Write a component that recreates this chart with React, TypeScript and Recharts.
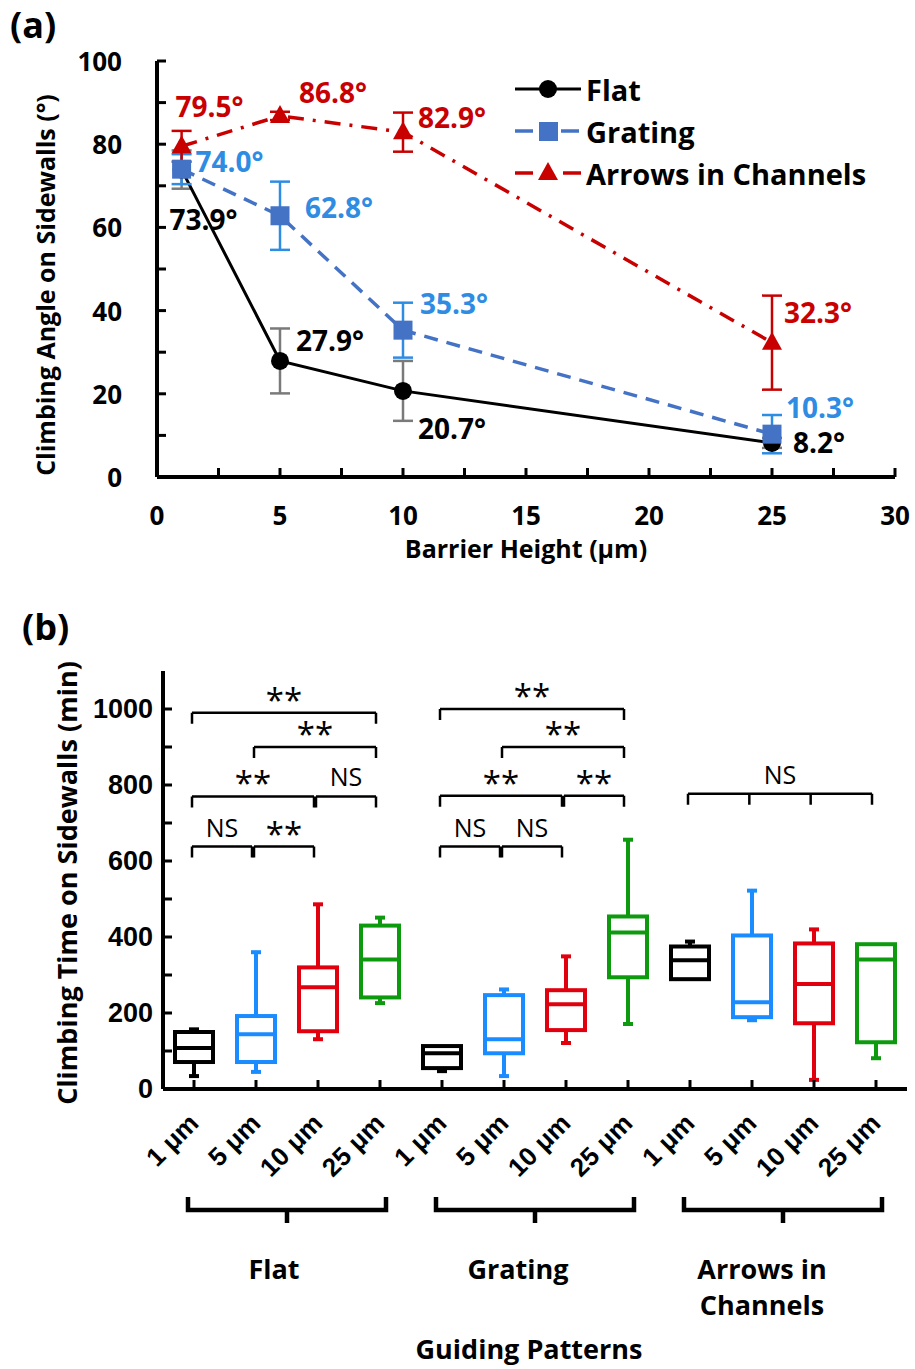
import React from 'react'
import {
  ComposedChart,
  Line,
  Bar,
  XAxis,
  YAxis,
  ErrorBar,
  LabelList,
  Legend,
  ReferenceLine,
} from 'recharts'

const FONT_A = "'Open Sans', 'DejaVu Sans', sans-serif"
const FONT_B = "'Liberation Sans', Arial, sans-serif"

// ---------- panel (a): climbing angle vs barrier height
const barrierHeights = [1, 5, 10, 25]
const flatAngle = [73.9, 27.9, 20.7, 8.2]
const flatSd = [4.6, 7.8, 7.2, 1.2]
const gratingAngle = [74.0, 62.8, 35.3, 10.3]
const gratingSd = [3.6, 8.2, 6.6, 4.6]
const arrowsAngle = [79.5, 86.8, 82.9, 32.3]
const arrowsSd = [3.7, 1.0, 4.7, 11.3]
const angleSeries = ['Flat', 'Grating', 'Arrows in Channels']
const angleTicks = [0, 10, 20, 30, 40, 50, 60, 70, 80, 90, 100]
const heightTicks = [0, 2.5, 5, 7.5, 10, 12.5, 15, 17.5, 20, 22.5, 25, 27.5, 30]

// ---------- panel (b): climbing time box plots
const patterns = ['Flat', 'Grating', 'Arrows in Channels']
const heightLabels = ['1 μm', '5 μm', '10 μm', '25 μm']
const timeMin = [34, 45, 131, 226, 47, 34, 121, 171, 289, 181, 24, 81]
const timeQ1 = [71, 71, 152, 241, 55, 94, 155, 294, 289, 189, 173, 123]
const timeMedian = [108, 144, 268, 341, 94, 131, 223, 412, 339, 228, 276, 341]
const timeQ3 = [150, 192, 320, 430, 113, 247, 260, 454, 375, 404, 383, 381]
const timeMax = [157, 360, 486, 451, 113, 262, 349, 656, 388, 522, 420, 381]
const timeTicks = [0, 100, 200, 300, 400, 500, 600, 700, 800, 900, 1000]

// significance brackets (box index from/to, level in min, mark, segments)
const sigFrom = [0, 1, 0, 2, 0, 1, 4, 5, 4, 6, 4, 5, 8]
const sigTo = [3, 3, 2, 3, 1, 2, 7, 7, 6, 7, 5, 6, 11]
const sigLevel = [990, 900, 770, 770, 638, 638, 1000, 900, 772, 772, 638, 638, 777]
const sigMark = ['**', '**', '**', 'NS', 'NS', '**', '**', '**', '**', '**', 'NS', 'NS', 'NS']
const sigParts = [1, 1, 1, 1, 1, 1, 1, 1, 1, 1, 1, 1, 3]

const BLUE_MARK = '#4472C4'
const BLUE_TEXT = '#2F8CE3'
const RED = '#C80000'
const boxColors = ['#000000', '#1A8CFF', '#E1000E', '#0E9A0E']
const AXIS = { stroke: '#000', strokeWidth: 4 }

const angleData = barrierHeights.map((h, i) => ({
  height: h,
  flat: flatAngle[i],
  flatSd: flatSd[i],
  grating: gratingAngle[i],
  gratingSd: gratingSd[i],
  arrows: arrowsAngle[i],
  arrowsSd: arrowsSd[i],
}))

const boxKeys = patterns.flatMap((p) => heightLabels.map((h) => `${p} ${h}`))
const timeData = boxKeys.map((key, i) => ({
  key,
  group: patterns[Math.floor(i / heightLabels.length)],
  range: [timeMin[i], timeMax[i]],
  min: timeMin[i],
  q1: timeQ1[i],
  median: timeMedian[i],
  q3: timeQ3[i],
  max: timeMax[i],
}))

// label placement around each point (dx, dy in px)
const flatLabelPos = [[-12, 49], [16, -21], [15, 37], [21, -1]]
const gratingLabelPos = [[14, -8], [25, -9], [17, -27], [14, -27]]
const arrowsLabelPos = [[-6, -40], [19, -24], [15, -15], [12, -31]]

const AxisTitle = ({ viewBox, text, vertical, dx = 0, dy = 0, font, size }: any) => {
  const vb = viewBox || { x: 0, y: 0, width: 0, height: 0 }
  const cx = vertical ? vb.x + dx : vb.x + vb.width / 2 + dx
  const cy = vertical ? vb.y + vb.height / 2 + dy : vb.y + dy
  return (
    <text
      x={cx}
      y={cy}
      transform={vertical ? `rotate(-90, ${cx}, ${cy})` : undefined}
      textAnchor="middle"
      dominantBaseline="central"
      fontFamily={font}
      fontWeight={700}
      fontSize={size}
      fill="#000"
    >
      {text}
    </text>
  )
}

const heightTickA = (p: any) => {
  const v = p.payload.value
  return (
    <g>
      <line x1={p.x} x2={p.x} y1={p.y} y2={p.y - 9} stroke="#000" strokeWidth={3} />
      {v % 5 === 0 && (
        <text x={p.x} y={p.y + 38} textAnchor="middle" dominantBaseline="central"
          fontFamily={FONT_A} fontWeight={700} fontSize={26} fill="#000">
          {v}
        </text>
      )}
    </g>
  )
}

const angleTick = (p: any) => {
  const v = p.payload.value
  return (
    <g>
      <line x1={p.x} x2={p.x + 9} y1={p.y} y2={p.y} stroke="#000" strokeWidth={3} />
      {v % 20 === 0 && (
        <text x={p.x - 35} y={p.y} textAnchor="end" dominantBaseline="central"
          fontFamily={FONT_A} fontWeight={700} fontSize={26} fill="#000">
          {v}
        </text>
      )}
    </g>
  )
}

const pointLabel = (offsets: number[][], color: string) => (p: any) => {
  const [dx, dy] = offsets[p.index]
  return (
    <text x={p.x + dx} y={p.y + dy} fill={color} fontFamily={FONT_A} fontWeight={700}
      fontSize={28} dominantBaseline="central">
      {`${Number(p.value).toFixed(1)}°`}
    </text>
  )
}

const circleDot = (p: any) => <circle key={`c${p.index}`} cx={p.cx} cy={p.cy} r={9} fill="#000" />
const squareDot = (p: any) => (
  <rect key={`s${p.index}`} x={p.cx - 9.5} y={p.cy - 9.5} width={19} height={19} fill={BLUE_MARK} />
)
const triangleDot = (p: any) => (
  <path key={`t${p.index}`} d={`M${p.cx},${p.cy - 11} L${p.cx + 10},${p.cy + 7} L${p.cx - 10},${p.cy + 7} Z`} fill={RED} />
)

const legendIcon = (i: number) => {
  if (i === 0)
    return (
      <svg width={72} height={42}>
        <line x1={4} x2={70} y1={21} y2={21} stroke="#000" strokeWidth={3} />
        <circle cx={37} cy={21} r={9} fill="#000" />
      </svg>
    )
  if (i === 1)
    return (
      <svg width={72} height={42}>
        <line x1={4} x2={22} y1={21} y2={21} stroke={BLUE_MARK} strokeWidth={3.5} />
        <line x1={50} x2={68} y1={21} y2={21} stroke={BLUE_MARK} strokeWidth={3.5} />
        <rect x={28} y={12} width={19} height={19} fill={BLUE_MARK} />
      </svg>
    )
  return (
    <svg width={72} height={42}>
      <line x1={4} x2={22} y1={21} y2={21} stroke={RED} strokeWidth={3.5} />
      <line x1={52} x2={70} y1={21} y2={21} stroke={RED} strokeWidth={3.5} />
      <path d="M37,10 L47,28 L27,28 Z" fill={RED} />
    </svg>
  )
}

const AngleLegend = () => (
  <div style={{ fontFamily: FONT_A, fontWeight: 700, fontSize: 29, color: '#000' }}>
    {angleSeries.map((name, i) => (
      <div key={name} style={{ display: 'flex', alignItems: 'center', height: 42 }}>
        {legendIcon(i)}
        <span style={{ marginLeft: 3 }}>{name}</span>
      </div>
    ))}
  </div>
)

function AngleChart() {
  return (
    <ComposedChart width={915} height={590} data={angleData}
      margin={{ top: 61, right: 20, bottom: 33, left: 0 }}>
      <XAxis dataKey="height" type="number" domain={[0, 30]} ticks={heightTicks} interval={0}
        tickSize={0} tickMargin={0} tickLine={false} tick={heightTickA} axisLine={AXIS} height={80}
        label={<AxisTitle text="Barrier Height (μm)" dy={71} font={FONT_A} size={25} />} />
      <XAxis xAxisId="top" orientation="top" type="number" domain={[0, 1]} allowDataOverflow
        height={0} tick={false} tickLine={false} axisLine={AXIS} />
      <YAxis type="number" domain={[0, 100]} ticks={angleTicks} interval={0} tickSize={0}
        tickMargin={0} tickLine={false} tick={angleTick} axisLine={AXIS} width={157}
        label={<AxisTitle text="Climbing Angle on Sidewalls (°)" vertical dx={45} dy={16} font={FONT_A} size={25} />} />
      <YAxis yAxisId="right" orientation="right" type="number" domain={[0, 1]} allowDataOverflow
        width={0} tick={false} tickLine={false} axisLine={AXIS} />
      <Legend layout="vertical" align="center" verticalAlign="middle"
        wrapperStyle={{ top: 68, left: 511, width: 395 }} content={() => <AngleLegend />} />
      <Line dataKey="flat" stroke="#000" strokeWidth={3} dot={circleDot} activeDot={false}
        isAnimationActive={false}>
        <ErrorBar dataKey="flatSd" width={10} strokeWidth={2.5} stroke="#7a7a7a" direction="y" />
        <LabelList dataKey="flat" content={pointLabel(flatLabelPos, '#000')} />
      </Line>
      <Line dataKey="grating" stroke={BLUE_MARK} strokeWidth={3.5} strokeDasharray="14 9"
        dot={squareDot} activeDot={false} isAnimationActive={false}>
        <ErrorBar dataKey="gratingSd" width={10} strokeWidth={2.5} stroke={BLUE_TEXT} direction="y" />
        <LabelList dataKey="grating" content={pointLabel(gratingLabelPos, BLUE_TEXT)} />
      </Line>
      <Line dataKey="arrows" stroke={RED} strokeWidth={3.5} strokeDasharray="16 9 3 9"
        dot={triangleDot} activeDot={false} isAnimationActive={false}>
        <ErrorBar dataKey="arrowsSd" width={10} strokeWidth={2.5} stroke={RED} direction="y" />
        <LabelList dataKey="arrows" content={pointLabel(arrowsLabelPos, RED)} />
      </Line>
    </ComposedChart>
  )
}

const BoxShape = (props: any) => {
  const { x, y, width, height, payload, index } = props
  const top = Math.min(y, y + height)
  const h = Math.abs(height)
  const span = payload.max - payload.min || 1
  const py = (v: number) => top + (h * (payload.max - v)) / span
  const cx = x + width / 2
  const c = boxColors[index % boxColors.length]
  return (
    <g fill="none" stroke={c} strokeWidth={4}>
      {payload.max > payload.q3 && (
        <>
          <line x1={cx} x2={cx} y1={py(payload.max)} y2={py(payload.q3)} />
          <line x1={cx - 5} x2={cx + 5} y1={py(payload.max)} y2={py(payload.max)} />
        </>
      )}
      {payload.min < payload.q1 && (
        <>
          <line x1={cx} x2={cx} y1={py(payload.q1)} y2={py(payload.min)} />
          <line x1={cx - 5} x2={cx + 5} y1={py(payload.min)} y2={py(payload.min)} />
        </>
      )}
      <rect x={x} y={py(payload.q3)} width={width} height={py(payload.q1) - py(payload.q3)} />
      <line x1={x} x2={x + width} y1={py(payload.median)} y2={py(payload.median)} />
    </g>
  )
}

const timeTick = (p: any) => {
  const v = p.payload.value
  return (
    <g>
      <line x1={p.x} x2={p.x + 9} y1={p.y} y2={p.y} stroke="#000" strokeWidth={3} />
      {v % 200 === 0 && (
        <text x={p.x - 10} y={p.y} textAnchor="end" dominantBaseline="central"
          fontFamily={FONT_B} fontWeight={700} fontSize={27} fill="#000">
          {v}
        </text>
      )}
    </g>
  )
}

const boxTick = (p: any) => {
  const ax = p.x + 6
  const ay = p.y + 36
  return (
    <g>
      <line x1={p.x} x2={p.x} y1={p.y} y2={p.y - 9} stroke="#000" strokeWidth={3} />
      <text x={ax} y={ay} transform={`rotate(-45, ${ax}, ${ay})`} textAnchor="end"
        fontFamily={FONT_B} fontWeight={700} fontSize={26} fill="#000">
        {heightLabels[p.index % heightLabels.length]}
      </text>
    </g>
  )
}

const wrapWords = (s: string, max: number) => {
  const lines: string[] = []
  s.split(' ').forEach((w) => {
    const last = lines[lines.length - 1]
    if (last && (last + ' ' + w).length <= max) lines[lines.length - 1] = last + ' ' + w
    else lines.push(w)
  })
  return lines
}

const groupTick = (p: any) => {
  const half = 99
  const x = p.x
  const y = p.y
  const tx = x - 13 - 4 * p.index
  const lines = wrapWords(String(p.payload.value), 12)
  return (
    <g>
      <path d={`M${x - half},${y + 3} V${y + 16} H${x + half} V${y + 3} M${x},${y + 16} V${y + 29}`}
        stroke="#000" strokeWidth={4.5} fill="none" />
      <text x={tx} y={y + 76} textAnchor="middle" fontFamily={FONT_A} fontWeight={700}
        fontSize={27} fill="#000">
        {lines.map((l, k) => (
          <tspan key={k} x={tx} dy={k === 0 ? '0.35em' : 36}>
            {l}
          </tspan>
        ))}
      </text>
    </g>
  )
}

const bracketShape = (mark: string, parts: number) => (p: any) => {
  const a = Math.min(p.x1, p.x2) - 2
  const b = Math.max(p.x1, p.x2) - 4
  const y = p.y1
  const legs = Array.from({ length: parts + 1 }, (_, k) => a + ((b - a) * k) / parts)
  const d = `M${a},${y} H${b} ` + legs.map((lx) => `M${lx},${y} V${y + 11}`).join(' ')
  const star = mark === '**'
  return (
    <g>
      <path d={d} stroke="#000" strokeWidth={2.5} fill="none" />
      <text x={(a + b) / 2} y={star ? y - 1 : y - 10} textAnchor="middle" fontFamily={FONT_A}
        fontSize={star ? 33 : 25} fill="#000">
        {mark}
      </text>
    </g>
  )
}

function TimeChart() {
  return (
    <ComposedChart width={915} height={779} data={timeData}
      margin={{ top: 81, right: 8, bottom: 0, left: 13 }}>
      <XAxis dataKey="key" type="category" interval={0} tickSize={0} tickMargin={0}
        tickLine={false} tick={boxTick} axisLine={AXIS} height={105} />
      <XAxis xAxisId="group" dataKey="group" type="category" allowDuplicatedCategory={false}
        interval={0} tickSize={0} tickMargin={0} tickLine={false}
        axisLine={false} tick={groupTick} height={175}
        label={<AxisTitle text="Guiding Patterns" dx={-6} dy={154} font={FONT_A} size={27} />} />
      <XAxis xAxisId="top" orientation="top" type="number" domain={[0, 1]} allowDataOverflow
        height={0} tick={false} tickLine={false} axisLine={AXIS} />
      <YAxis type="number" domain={[0, 1100]} ticks={timeTicks} interval={0} tickSize={0}
        tickMargin={0} tickLine={false} tick={timeTick} axisLine={AXIS} width={150}
        label={<AxisTitle text="Climbing Time on Sidewalls (min)" vertical dx={53} dy={3} font={FONT_A} size={27} />} />
      <YAxis yAxisId="right" orientation="right" type="number" domain={[0, 1]} allowDataOverflow
        width={0} tick={false} tickLine={false} axisLine={AXIS} />
      {sigFrom.map((from, i) => (
        <ReferenceLine key={i}
          segment={[{ x: boxKeys[from], y: sigLevel[i] }, { x: boxKeys[sigTo[i]], y: sigLevel[i] }]}
          shape={bracketShape(sigMark[i], sigParts[i])} />
      ))}
      <Bar dataKey="range" barSize={38} shape={BoxShape} isAnimationActive={false} />
    </ComposedChart>
  )
}

export default function App() {
  return (
    <div style={{ position: 'absolute', left: 0, top: 0, width: 915, height: 1369, background: '#fff' }}>
      <div style={{ position: 'absolute', left: 10, top: 0, fontFamily: FONT_A, fontWeight: 700, fontSize: 36 }}>
        (a)
      </div>
      <div style={{ position: 'absolute', left: 22, top: 602, fontFamily: FONT_A, fontWeight: 700, fontSize: 36 }}>
        (b)
      </div>
      <div style={{ position: 'absolute', left: 0, top: 0 }}>
        <AngleChart />
      </div>
      <div style={{ position: 'absolute', left: 0, top: 590 }}>
        <TimeChart />
      </div>
    </div>
  )
}
